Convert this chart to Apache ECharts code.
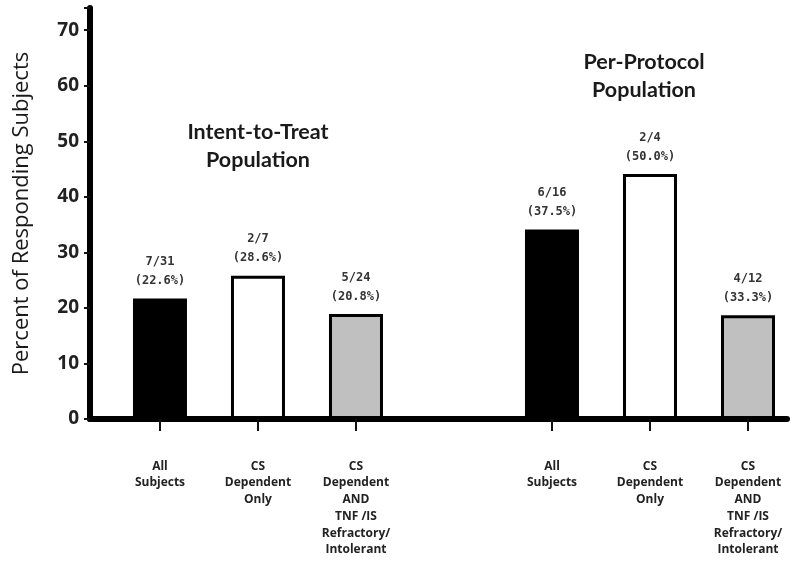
<!DOCTYPE html>
<html>
<head>
<meta charset="utf-8">
<script src="https://cdn.jsdelivr.net/npm/echarts@6/dist/echarts.min.js"></script>
<style>
html,body{margin:0;padding:0;background:#fff;}
#chart{width:800px;height:566px;}
</style>
</head>
<body>
<div id="chart"></div>
<script>
// Categories (empty slot separates the two populations)
var categories = [
  'All\nSubjects',
  'CS\nDependent\nOnly',
  'CS\nDependent\nAND\nTNF /IS\nRefractory/\nIntolerant',
  '',
  'All\nSubjects',
  'CS\nDependent\nOnly',
  'CS\nDependent\nAND\nTNF /IS\nRefractory/\nIntolerant'
];
// Bar heights as drawn in the figure
var values = [21.7, 25.8, 18.9, null, 34.1, 44.1, 18.7];
// Bar annotations
var fractions = ['7/31', '2/7', '5/24', '', '6/16', '2/4', '4/12'];
var percents = ['22.6%', '28.6%', '20.8%', '', '37.5%', '50.0%', '33.3%'];
// Y axis ticks
var yTicks = [0, 10, 20, 30, 40, 50, 60, 70];
var groupTitles = [['Intent-to-Treat', 'Population'], ['Per-Protocol', 'Population']];

var fills = ['#000000', '#ffffff', '#c0c0c0', '#ffffff', '#000000', '#ffffff', '#c0c0c0'];

var tickIdx = [];
var barData = [];
values.forEach(function (v, i) {
  if (v !== null) {
    tickIdx.push(i);
    barData.push({ value: [i, v], itemStyle: { color: fills[i] } });
  }
});

var chart = echarts.init(document.getElementById('chart'));
var titleFont = 'bold 21.5px Lato';
var option = {
  animation: false,
  grid: { left: 90, right: 13, top: 8, bottom: 147, containLabel: false },
  xAxis: {
    type: 'value',
    min: -0.714,
    max: 6.398,
    z: 5,
    splitLine: { show: false },
    axisLine: { show: true, onZero: false, lineStyle: { color: '#000', width: 6 } },
    axisTick: { show: true, customValues: tickIdx, length: 12, lineStyle: { color: '#111', width: 2 } },
    axisLabel: {
      customValues: tickIdx,
      margin: 39,
      formatter: function (v) { return categories[Math.round(v)]; },
      fontFamily: 'Open Sans',
      fontWeight: 'bold',
      fontSize: 12,
      lineHeight: 16.7,
      color: '#222',
      align: 'center'
    }
  },
  yAxis: {
    type: 'value',
    min: yTicks[0],
    max: 74,
    interval: 10,
    z: 5,
    name: 'Percent of Responding Subjects',
    nameLocation: 'middle',
    nameGap: 57,
    nameTextStyle: { fontFamily: 'Open Sans', fontSize: 22, color: '#1a1a1a' },
    splitLine: { show: false },
    axisLine: { show: true, onZero: false, lineStyle: { color: '#000', width: 6 } },
    axisTick: { show: true, length: 6, lineStyle: { color: '#111', width: 2 } },
    axisLabel: {
      margin: 11,
      fontFamily: 'Open Sans',
      fontWeight: 'bold',
      fontSize: 19,
      color: '#222',
      customValues: yTicks
    }
  },
  series: [{
    type: 'bar',
    data: barData,
    barWidth: 54,
    itemStyle: { borderColor: '#000', borderWidth: 3 },
    label: {
      show: true,
      position: 'top',
      distance: 8,
      formatter: function (p) {
        var i = p.value[0];
        return fractions[i] + '\n(' + percents[i] + ')';
      },
      fontFamily: 'DejaVu Sans Mono',
      fontWeight: 'bold',
      fontSize: 12,
      lineHeight: 19,
      color: '#333'
    }
  }],
  graphic: [
    { type: 'text', x: 258, y: 131.7, style: { text: groupTitles[0][0], textAlign: 'center', textVerticalAlign: 'middle', font: titleFont, fill: '#1a1a1a' } },
    { type: 'text', x: 258, y: 160, style: { text: groupTitles[0][1], textAlign: 'center', textVerticalAlign: 'middle', font: titleFont, fill: '#1a1a1a' } },
    { type: 'text', x: 644, y: 61.7, style: { text: groupTitles[1][0], textAlign: 'center', textVerticalAlign: 'middle', font: titleFont, fill: '#1a1a1a' } },
    { type: 'text', x: 644, y: 90, style: { text: groupTitles[1][1], textAlign: 'center', textVerticalAlign: 'middle', font: titleFont, fill: '#1a1a1a' } }
  ]
};
chart.setOption(option);
</script>
</body>
</html>
